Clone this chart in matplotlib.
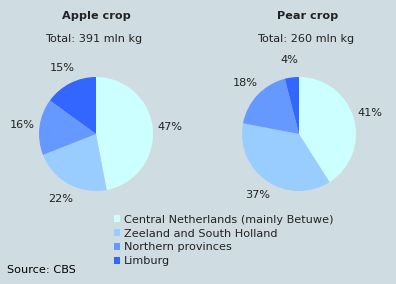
import matplotlib.pyplot as plt

# region shares (%) of each crop
regions = ["Central Netherlands (mainly Betuwe)", "Zeeland and South Holland",
           "Northern provinces", "Limburg"]
apple_share = [47, 22, 16, 15]
pear_share = [41, 37, 18, 4]
apple_total = 391
pear_total = 260

colors = ["#CCFFFF", "#99CCFF", "#6699FF", "#3366FF"]
bg = "#CFDDE2"
txt = "#222222"
fs = 8.1

W, H = 396, 284
fig = plt.figure(figsize=(W / 100, H / 100), dpi=100, facecolor=bg)

R = 1.5          # axes half-range in pie radii
rad_px = 57      # pie radius in pixels
side = 2 * R * rad_px


def pie_axes(cx, cy):
    # cx, cy = pie centre in pixels from top-left
    return fig.add_axes([(cx - side / 2) / W, (H - cy - side / 2) / H, side / W, side / H])


wedges = None
for cx, shares in [(96, apple_share), (299, pear_share)]:
    ax = pie_axes(cx, 134)
    wedges, _, autotexts = ax.pie(shares, colors=colors, startangle=90, counterclock=False,
                                  autopct=lambda p: f"{p:.0f}%", pctdistance=1.3,
                                  wedgeprops=dict(linewidth=0),
                                  textprops=dict(fontsize=fs, color=txt))
    ax.set_xlim(-R, R)
    ax.set_ylim(-R, R)
    ax.axis("off")

# titles
fig.text(96 / W, 1 - 16 / H, "Apple crop", ha="center", va="center",
         fontsize=fs, fontweight="bold", color=txt)
fig.text(94 / W, 1 - 39 / H, f"Total: {apple_total} mln kg", ha="center", va="center",
         fontsize=fs, color=txt)
fig.text(308 / W, 1 - 16 / H, "Pear crop", ha="center", va="center",
         fontsize=fs, fontweight="bold", color=txt)
fig.text(306 / W, 1 - 39 / H, f"Total: {pear_total} mln kg", ha="center", va="center",
         fontsize=fs, color=txt)

fig.legend(wedges, regions, loc="upper left", bbox_to_anchor=(108 / W, 1 - 209 / H),
           frameon=False, fontsize=fs, handlelength=0.55, handleheight=0.55,
           handletextpad=0.35, labelspacing=0.35, borderpad=0, labelcolor=txt)

fig.text(7 / W, 1 - 270 / H, "Source: CBS", ha="left", va="center", fontsize=fs, color="black")

fig.savefig("out.png", dpi=100, facecolor=bg)
